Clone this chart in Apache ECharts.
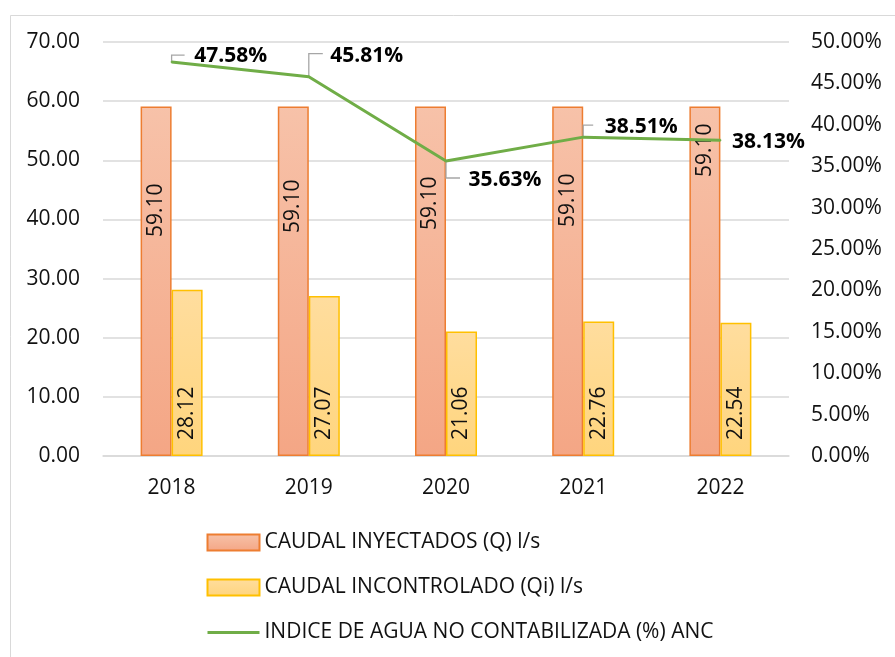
<!DOCTYPE html>
<html><head><meta charset="utf-8">
<script src="https://cdn.jsdelivr.net/npm/echarts@6/dist/echarts.min.js"></script>
<style>html,body{margin:0;padding:0;background:#fff}#c{width:895px;height:657px}</style>
</head><body><div id="c"></div>
<script>
// ---- data ----
const years = ['2018', '2019', '2020', '2021', '2022'];
const caudalInyectado = [59.10, 59.10, 59.10, 59.10, 59.10];
const caudalIncontrolado = [28.12, 27.07, 21.06, 22.76, 22.54];
const indiceANC = [47.58, 45.81, 35.63, 38.51, 38.13];
const seriesNames = ['CAUDAL INYECTADOS (Q) l/s', 'CAUDAL INCONTROLADO (Qi) l/s', 'INDICE DE AGUA NO CONTABILIZADA (%) ANC'];

// ---- label styling (offsets, not data) ----
const injLabelDist = [219, 223, 226, 229, 279];
const ancLabelOffset = [[59, -6], [58, -21], [59, 19], [58, -10], [48, 2]];
const ancLeaderY = [-7, -23, 17, -12, 0];
const ancLeaderX = [13, 14, 14, 10, 0];

const FONT = '"Open Sans", "Noto Sans", sans-serif';
const orangeGrad = new echarts.graphic.LinearGradient(0, 0, 0, 1, [
  { offset: 0, color: '#F7C2A9' }, { offset: 1, color: '#F4A685' }]);
const yellowGrad = new echarts.graphic.LinearGradient(0, 0, 0, 1, [
  { offset: 0, color: '#FFDD9E' }, { offset: 1, color: '#FFD57D' }]);

const chart = echarts.init(document.getElementById('c'), null, { renderer: 'canvas' });
chart.setOption({
  backgroundColor: '#fff',
  animation: false,
  textStyle: { fontFamily: FONT },
  graphic: [{
    type: 'rect', left: 8, top: 13, silent: true,
    shape: { width: 900, height: 700 },
    style: { fill: 'none', stroke: '#D9D9D9', lineWidth: 1 }
  }],
  grid: { left: 103, right: 106, top: 42, bottom: 201, containLabel: false },
  legend: {
    orient: 'vertical', left: 201, top: 527,
    itemWidth: 52, itemHeight: 16, itemGap: 24,
    textStyle: { fontSize: 21, color: '#111', fontFamily: FONT },
    data: [
      { name: seriesNames[0], icon: 'rect' },
      { name: seriesNames[1], icon: 'rect' },
      { name: seriesNames[2], itemStyle: { opacity: 0 }, lineStyle: { width: 3, color: '#70AD47' } }
    ]
  },
  xAxis: {
    type: 'category', data: years,
    axisLine: { lineStyle: { color: '#D9D9D9', width: 1.5 } },
    axisTick: { show: false },
    axisLabel: { fontSize: 21, color: '#111', margin: 22 }
  },
  yAxis: [{
    type: 'value', min: 0, max: 70, interval: 10,
    axisLabel: { fontSize: 21, color: '#111', margin: 23, formatter: v => v.toFixed(2) },
    splitLine: { lineStyle: { color: '#D9D9D9', width: 1.5 } },
    axisLine: { show: false }, axisTick: { show: false }
  }, {
    type: 'value', min: 0, max: 50, interval: 5, position: 'right',
    axisLabel: { fontSize: 21, color: '#111', margin: 22, formatter: v => v.toFixed(2) + '%' },
    splitLine: { show: false }, axisLine: { show: false }, axisTick: { show: false }
  }],
  series: [{
    name: seriesNames[0], type: 'bar', barWidth: 31, barGap: '0%',
    itemStyle: { color: orangeGrad, borderColor: '#ED7D31', borderWidth: 1.5 },
    label: {
      show: true, position: 'insideBottom', rotate: 90, align: 'left', verticalAlign: 'middle',
      fontSize: 21, color: '#111', formatter: p => p.value.toFixed(2)
    },
    data: caudalInyectado.map((v, i) => ({ value: v, label: { distance: injLabelDist[i] } }))
  }, {
    name: seriesNames[1], type: 'bar', barWidth: 31,
    itemStyle: { color: yellowGrad, borderColor: '#FFC000', borderWidth: 1.5 },
    label: {
      show: true, position: 'insideBottom', distance: 16, rotate: 90, align: 'left', verticalAlign: 'middle',
      fontSize: 21, color: '#111', formatter: p => p.value.toFixed(2)
    },
    data: caudalIncontrolado
  }, {
    name: 'leader', type: 'custom', yAxisIndex: 1, z: 4, silent: true,
    renderItem: function (params, api) {
      const i = params.dataIndex;
      const pt = api.coord([api.value(0), api.value(1)]);
      const yy = pt[1] + ancLeaderY[i];
      return {
        type: 'polyline',
        shape: { points: [pt, [pt[0], yy], [pt[0] + ancLeaderX[i], yy]] },
        style: { stroke: '#A6A6A6', lineWidth: 1.3, fill: null }
      };
    },
    encode: { x: 0, y: 1 },
    data: indiceANC.map((v, i) => [i, v])
  }, {
    name: seriesNames[2], type: 'line', yAxisIndex: 1, z: 5,
    symbol: 'circle', symbolSize: 2,
    itemStyle: { color: '#70AD47' },
    lineStyle: { color: '#70AD47', width: 3 },
    label: {
      show: true, position: 'top', fontSize: 21, fontWeight: 'bold', color: '#000',
      formatter: p => p.value.toFixed(2) + '%'
    },
    labelLayout: function (p) {
      const i = p.dataIndex;
      const cx = p.rect.x + p.rect.width / 2, cy = p.rect.y + p.rect.height / 2;
      const o = ancLabelOffset[i];
      return { x: cx + o[0], y: cy + o[1], align: 'center', verticalAlign: 'middle' };
    },
    data: indiceANC
  }]
});
</script>
</body></html>
